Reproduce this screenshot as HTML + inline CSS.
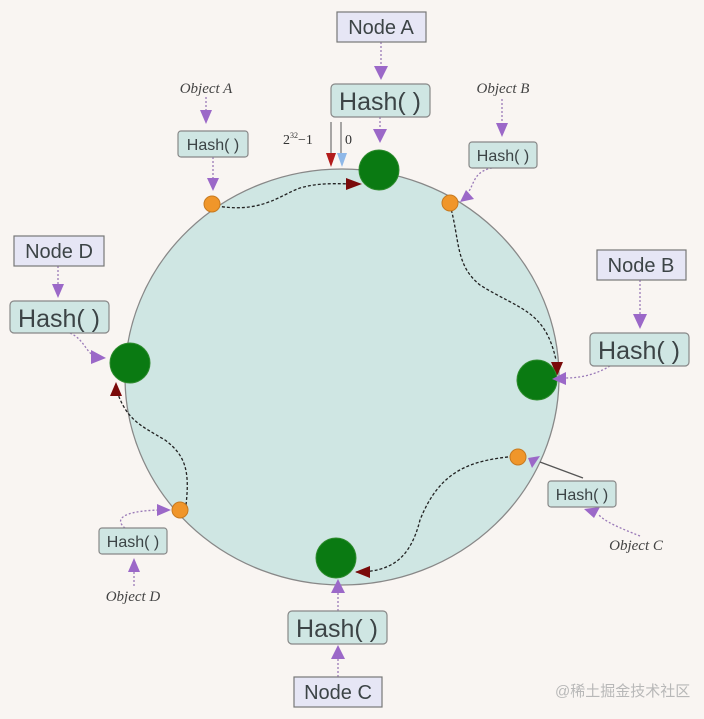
<!DOCTYPE html>
<html><head><meta charset="utf-8"><style>
html,body{margin:0;padding:0;background:#f9f5f2;}
svg{display:block}
.nb{fill:#e6e6f5;stroke:#777;stroke-width:1.2}
.hb{fill:#cfe6e3;stroke:#888;stroke-width:1.2}
.t{font-family:"Liberation Sans",sans-serif;fill:#3c4446}
.o{font-family:"Liberation Serif",serif;font-style:italic;fill:#444;font-size:15px}
.pd{stroke:#9a7ab8;stroke-width:1.3;stroke-dasharray:2 2;fill:none}
.bd{stroke:#222;stroke-width:1.3;stroke-dasharray:3 2;fill:none}
</style></head><body>
<svg width="704" height="719" viewBox="0 0 704 719">
<ellipse cx="342" cy="377" rx="217" ry="208" fill="#cfe6e3" stroke="#888" stroke-width="1.3"/>
<!-- black dashed paths -->
<path class="bd" d="M212,205 C260,215 280,195 300,188 C320,182 340,184 356,184"/>
<path class="bd" d="M450,205 C460,240 455,265 480,285 C520,310 545,310 556,360"/>
<path class="bd" d="M518,456 C470,460 440,470 420,520 C410,560 390,572 356,572"/>
<path class="bd" d="M186,505 C190,470 185,455 165,440 C140,425 125,420 115,385"/>
<!-- dark red arrowheads -->
<polygon points="346,178 362,184 346,190" fill="#7a0a0a"/>
<polygon points="551,362 563,362 557,376" fill="#7a0a0a"/>
<polygon points="370,566 370,578 355,572" fill="#7a0a0a"/>
<polygon points="110,396 122,396 116,382" fill="#7a0a0a"/>
<!-- 2^32-1 and 0 markers -->
<line x1="331" y1="122" x2="331" y2="155" stroke="#555" stroke-width="1"/>
<line x1="341" y1="122" x2="341" y2="155" stroke="#555" stroke-width="1"/>
<polygon points="326,153 336,153 331,167" fill="#b31b1b"/>
<polygon points="337,153 347,153 342,167" fill="#8fb8e8"/>
<text x="283" y="144" font-family="Liberation Serif,serif" font-size="14" fill="#333">2<tspan font-size="8" dy="-6">32</tspan><tspan dy="6">−1</tspan></text>
<text x="345" y="144" font-family="Liberation Serif,serif" font-size="14" fill="#333">0</text>
<!-- nodes -->
<circle cx="379" cy="170" r="20" fill="#0a7a12" stroke="#2e8b2e"/>
<circle cx="537" cy="380" r="20" fill="#0a7a12" stroke="#2e8b2e"/>
<circle cx="336" cy="558" r="20" fill="#0a7a12" stroke="#2e8b2e"/>
<circle cx="130" cy="363" r="20" fill="#0a7a12" stroke="#2e8b2e"/>
<!-- objects -->
<circle cx="212" cy="204" r="8" fill="#f0962a" stroke="#c77a20"/>
<circle cx="450" cy="203" r="8" fill="#f0962a" stroke="#c77a20"/>
<circle cx="518" cy="457" r="8" fill="#f0962a" stroke="#c77a20"/>
<circle cx="180" cy="510" r="8" fill="#f0962a" stroke="#c77a20"/>
<!-- purple dotted connectors -->
<g class="pd">
<path d="M381,42 V68"/><path d="M380,117 V132"/>
<path d="M206,97 V112"/><path d="M213,157 V180"/>
<path d="M502,99 V125"/><path d="M492,168 C470,172 475,190 464,196"/>
<path d="M58,266 V285"/><path d="M70,333 C85,340 85,352 96,357"/>
<path d="M640,280 V315"/><path d="M610,366 C595,375 580,378 565,378"/>
<path d="M640,536 C620,528 605,522 598,514"/>
<path d="M134,586 V570"/><path d="M125,528 C115,520 120,511 160,510"/>
<path d="M338,611 V590"/><path d="M338,677 V655"/>
</g>
<line x1="583" y1="478" x2="540" y2="462" stroke="#555" stroke-width="1.3"/>
<g fill="#9b68c8">
<polygon points="374,66 388,66 381,80"/><polygon points="373,129 387,129 380,143"/>
<polygon points="200,110 212,110 206,124"/><polygon points="207,178 219,178 213,191"/>
<polygon points="496,123 508,123 502,137"/><polygon points="466,190 460,202 474,199" />
<polygon points="52,284 64,284 58,298"/><polygon points="91,350 91,364 106,358"/>
<polygon points="633,314 647,314 640,329"/><polygon points="566,372 566,385 552,379"/>
<polygon points="540,456 532,468 528,458"/>
<polygon points="600,507 594,518 584,509"/>
<polygon points="128,572 140,572 134,558"/><polygon points="157,504 157,516 171,510"/>
<polygon points="331,593 345,593 338,579"/><polygon points="331,659 345,659 338,645"/>
</g>
<!-- boxes -->
<rect class="nb" x="337" y="12" width="89" height="30"/><text class="t" x="381" y="34" font-size="20" text-anchor="middle">Node A</text>
<rect class="hb" x="331" y="84" width="99" height="33" rx="4"/><text class="t" x="380" y="110" font-size="25" text-anchor="middle">Hash( )</text>
<text class="o" x="206" y="93" text-anchor="middle">Object A</text>
<rect class="hb" x="178" y="131" width="70" height="26" rx="3"/><text class="t" x="213" y="150" font-size="16" text-anchor="middle">Hash( )</text>
<text class="o" x="503" y="93" text-anchor="middle">Object B</text>
<rect class="hb" x="469" y="142" width="68" height="26" rx="3"/><text class="t" x="503" y="161" font-size="16" text-anchor="middle">Hash( )</text>
<rect class="nb" x="14" y="236" width="90" height="30"/><text class="t" x="59" y="258" font-size="20" text-anchor="middle">Node D</text>
<rect class="hb" x="10" y="301" width="99" height="32" rx="4"/><text class="t" x="59" y="327" font-size="25" text-anchor="middle">Hash( )</text>
<rect class="nb" x="597" y="250" width="89" height="30"/><text class="t" x="641" y="272" font-size="20" text-anchor="middle">Node B</text>
<rect class="hb" x="590" y="333" width="99" height="33" rx="4"/><text class="t" x="639" y="359" font-size="25" text-anchor="middle">Hash( )</text>
<rect class="hb" x="548" y="481" width="68" height="26" rx="3"/><text class="t" x="582" y="500" font-size="16" text-anchor="middle">Hash( )</text>
<text class="o" x="636" y="550" text-anchor="middle">Object C</text>
<rect class="hb" x="99" y="528" width="68" height="26" rx="3"/><text class="t" x="133" y="547" font-size="16" text-anchor="middle">Hash( )</text>
<text class="o" x="133" y="601" text-anchor="middle">Object D</text>
<rect class="hb" x="288" y="611" width="99" height="33" rx="4"/><text class="t" x="337" y="637" font-size="25" text-anchor="middle">Hash( )</text>
<rect class="nb" x="294" y="677" width="88" height="30"/><text class="t" x="338" y="699" font-size="20" text-anchor="middle">Node C</text>
<text x="555" y="696" font-family="Liberation Sans,'Noto Sans CJK SC',sans-serif" font-size="15" fill="#b8b8b8">@稀土掘金技术社区</text>
</svg>
</body></html>
